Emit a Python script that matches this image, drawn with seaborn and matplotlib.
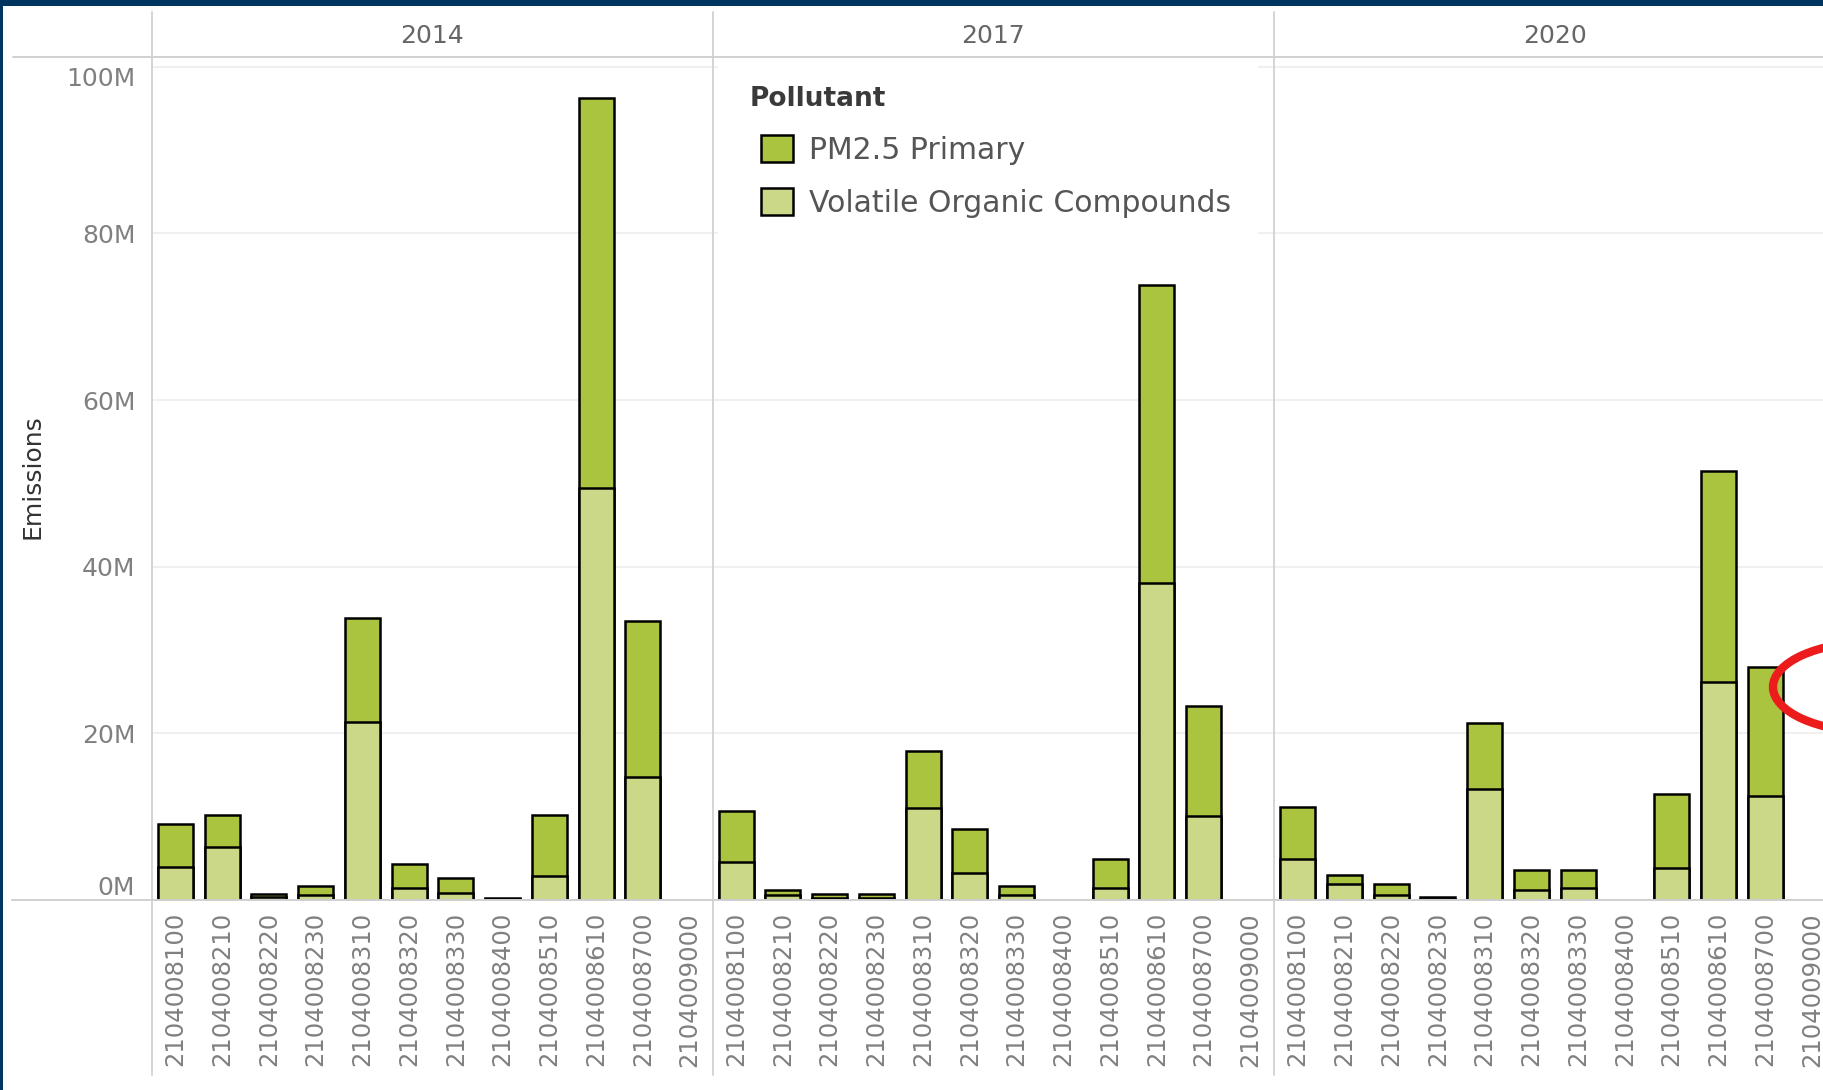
import numpy as np
import pandas as pd
import matplotlib
matplotlib.use("Agg")
import matplotlib.pyplot as plt
from matplotlib.patches import Patch, Rectangle, Ellipse
from matplotlib.lines import Line2D
import seaborn as sns

# emissions in millions (None = no bar)
years = ["2014", "2017", "2020"]
codes = ["2104008100", "2104008210", "2104008220", "2104008230", "2104008310", "2104008320",
         "2104008330", "2104008400", "2104008510", "2104008610", "2104008700", "2104009000"]
pm25_2014 = [5.1, 3.8, 0.3, 1.1, 12.4, 2.9, 1.8, 0.1, 7.3, 46.9, 18.7, None]
voc_2014 = [4.0, 6.4, 0.4, 0.6, 21.4, 1.4, 0.9, 0.1, 2.9, 49.4, 14.8, None]
pm25_2017 = [6.1, 0.6, 0.4, 0.4, 6.8, 5.2, 1.1, None, 3.5, 35.8, 13.2, None]
voc_2017 = [4.6, 0.6, 0.3, 0.3, 11.1, 3.3, 0.6, None, 1.4, 38.0, 10.1, None]
pm25_2020 = [6.3, 1.1, 1.3, 0.3, 7.9, 2.4, 2.2, None, 8.9, 25.3, 15.5, None]
voc_2020 = [4.9, 1.9, 0.6, 0.1, 13.3, 1.2, 1.4, None, 3.8, 26.2, 12.5, None]
yticks = [0, 20, 40, 60, 80, 100]

PM_C = "#aac440"
VOC_C = "#cbd887"
GREY = "#808080"

rows = []
for year, pm, voc in zip(years, [pm25_2014, pm25_2017, pm25_2020], [voc_2014, voc_2017, voc_2020]):
    for code, p, v in zip(codes, pm, voc):
        rows.append({"Year": year, "Code": code, "PM": p, "VOC": v})
df = pd.DataFrame(rows)
df["PM"] = df["PM"].astype(float)
df["VOC"] = df["VOC"].astype(float)
df["Total"] = df["PM"] + df["VOC"]

W, H = 1823, 1090
sns.set_style("white")
plt.rcParams["font.family"] = ["DejaVu Sans"]
fig = plt.figure(figsize=(W / 100, H / 100), dpi=100)
fig.patch.set_facecolor("white")


def fx(px):
    return px / W


def fy(py):
    return 1 - py / H


lefts = [152, 712.7, 1274.2]
pw = 561
for i, year in enumerate(years):
    ax = fig.add_axes([fx(lefts[i]), fy(900), pw / W, (900 - 57) / H])
    sub = df[df["Year"] == year].dropna(subset=["Total"])
    sns.barplot(data=sub, x="Code", y="Total", order=codes, color=PM_C, saturation=1,
                edgecolor="black", linewidth=1.8, width=0.75, errorbar=None, ax=ax)
    sns.barplot(data=sub, x="Code", y="VOC", order=codes, color=VOC_C, saturation=1,
                edgecolor="black", linewidth=1.8, width=0.75, errorbar=None, ax=ax)
    ax.set_xlim(-0.5, 11.5)
    ax.set_ylim(0, 101.16)
    ax.set_yticks(yticks)
    ax.grid(axis="y", color="#efefef", lw=1.3)
    ax.set_axisbelow(True)
    ax.set_xlabel("")
    ax.set_ylabel("")
    for s in ax.spines.values():
        s.set_visible(False)
    ax.set_xticks(np.arange(-0.5, 12, 1), minor=True)
    ax.tick_params(axis="x", which="major", length=0, pad=8.6, labelsize=17.5,
                   labelcolor=GREY, labelrotation=90)
    ax.tick_params(axis="x", which="minor", length=5, width=1, color="#e3e3e3", direction="out")
    ax.tick_params(axis="y", length=0, pad=12, labelsize=18, labelcolor=GREY)
    if i == 0:
        ax.set_yticklabels([f"{v}M" for v in yticks])
        labs = ax.get_yticklabels()
        labs[0].set_va("bottom")
        labs[-1].set_va("top")
    else:
        ax.tick_params(axis="y", labelleft=False)
    fig.text(fx(lefts[i] + pw / 2), fy(36), year, ha="center", va="center",
             fontsize=18, color="#666666")

# frame lines
for x in lefts:
    fig.add_artist(Line2D([fx(x), fx(x)], [fy(12), fy(1075)], color="#d4d4d4", lw=1.4))
fig.add_artist(Line2D([fx(13), 1], [fy(57), fy(57)], color="#d0d0d0", lw=1.4))
fig.add_artist(Line2D([fx(12), 1], [fy(900), fy(900)], color="#d0d0d0", lw=1.4))

fig.text(fx(32), fy(477), "Emissions", rotation=90, ha="center", va="center",
         fontsize=18, color="#333333")

# legend
fig.add_artist(Rectangle((fx(718), fy(245)), (1258 - 718) / W, (245 - 64) / H,
                         transform=fig.transFigure, facecolor="white", edgecolor="none", zorder=1))
fig.text(fx(750), fy(99), "Pollutant", ha="left", va="center", fontsize=19,
         fontweight="bold", color="#3a3a3a", zorder=3)
handles = [Patch(facecolor=PM_C, edgecolor="black", lw=1.8, label="PM2.5 Primary"),
           Patch(facecolor=VOC_C, edgecolor="black", lw=1.8, label="Volatile Organic Compounds")]
leg = fig.legend(handles=handles, loc="upper left",
                 bbox_to_anchor=(fx(761), fy(135)), frameon=False, fontsize=21.5,
                 handlelength=1.07, handleheight=1.0, handletextpad=0.55, labelspacing=0.8,
                 borderpad=0, borderaxespad=0)
for t in leg.get_texts():
    t.set_color("#555555")

# annotation ellipse, cut by the right edge
fig.add_artist(Ellipse((fx(1873), fy(687)), 200 / W, 90 / H, transform=fig.transFigure,
                       fill=False, edgecolor="#ec1c1c", lw=6, zorder=5))

# dark border
fig.add_artist(Rectangle((0, fy(6)), 1, 6 / H, transform=fig.transFigure,
                         facecolor="#00355f", edgecolor="none", zorder=6))
fig.add_artist(Rectangle((0, 0), 2.5 / W, 1, transform=fig.transFigure,
                         facecolor="#00355f", edgecolor="none", zorder=6))

fig.savefig("out.png", dpi=100)
